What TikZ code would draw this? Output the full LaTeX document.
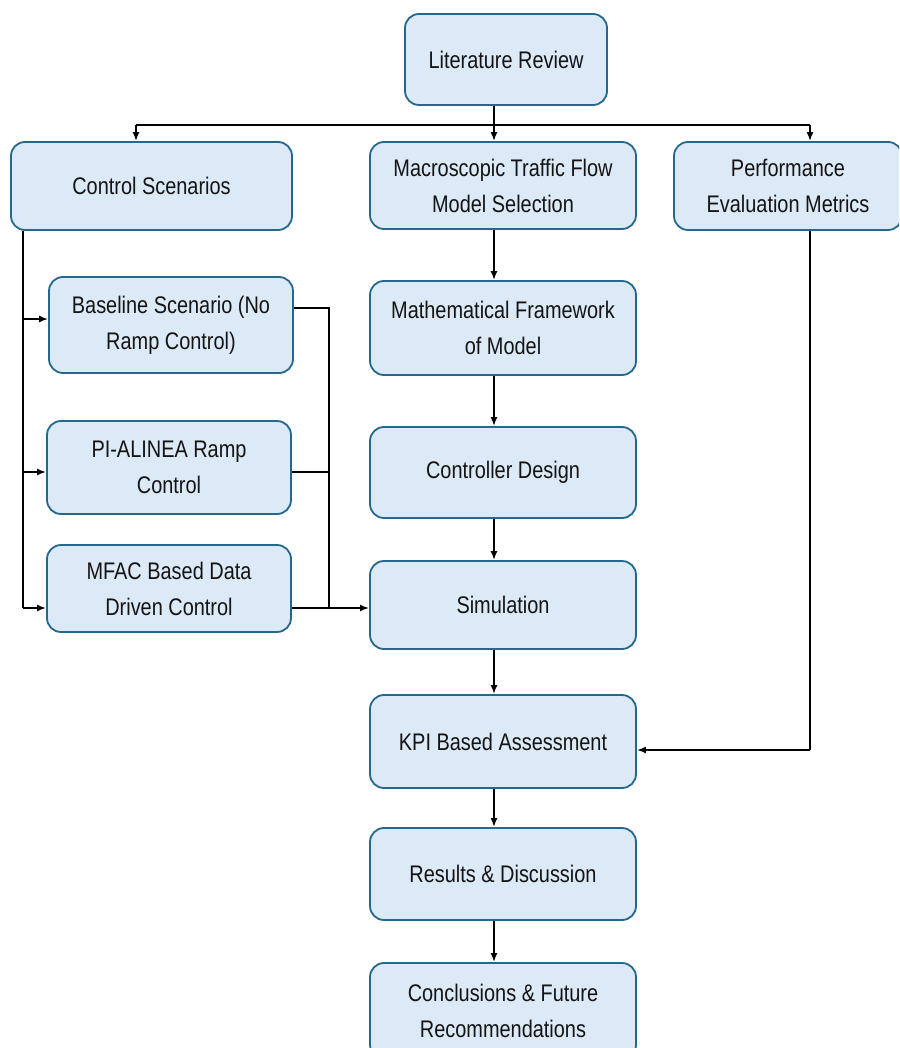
\documentclass[tikz,border=0pt]{standalone}
\usepackage{fontspec}
\setmainfont[FakeStretch=0.83]{Liberation Sans}
\usetikzlibrary{arrows.meta}
\definecolor{boxfill}{RGB}{220,233,246}
\definecolor{boxline}{RGB}{38,104,140}
\definecolor{txt}{RGB}{20,20,20}
\tikzset{
  stepbox/.style={draw=boxline, line width=1.8pt, fill=boxfill, rounded corners=14pt,
    align=center, text=txt, inner sep=0pt,
    font=\fontsize{24}{36}\selectfont},
  conn/.style={draw=black, line width=1.8pt},
  arr/.style={conn, -{Latex[length=9pt,width=7pt]}}
}
\begin{document}
\begin{tikzpicture}[x=1pt,y=-1pt]
\useasboundingbox (0,0) rectangle (899,1048);
\clip (0,0) rectangle (899,1048);
% nodes
\node[stepbox, minimum width=202pt, minimum height=91pt] (lit) at (506,59.5) {Literature Review};
\node[stepbox, minimum width=281pt, minimum height=88pt] (cs) at (151.5,186) {Control Scenarios};
\node[stepbox, minimum width=266pt, minimum height=87pt] (mac) at (503,185.5) {Macroscopic Traffic Flow\\Model Selection};
\node[stepbox, minimum width=228pt, minimum height=88pt] (perf) at (788,186) {Performance\\Evaluation Metrics};
\node[stepbox, minimum width=266pt, minimum height=94pt] (math) at (503,328) {Mathematical Framework\\of Model};
\node[stepbox, minimum width=266pt, minimum height=91pt] (ctrl) at (503,472.5) {Controller Design};
\node[stepbox, minimum width=266pt, minimum height=88pt] (sim) at (503,605) {Simulation};
\node[stepbox, minimum width=266pt, minimum height=93pt] (kpi) at (503,741.5) {KPI Based Assessment};
\node[stepbox, minimum width=266pt, minimum height=92pt] (res) at (503,874) {Results \& Discussion};
\node[stepbox, minimum width=266pt, minimum height=96pt] (conc) at (503,1011) {Conclusions \& Future\\Recommendations};
\node[stepbox, minimum width=244pt, minimum height=96pt] (base) at (171,325) {Baseline Scenario (No\\Ramp Control)};
\node[stepbox, minimum width=244pt, minimum height=93pt] (pi) at (169,467.5) {PI-ALINEA Ramp\\Control};
\node[stepbox, minimum width=244pt, minimum height=87pt] (mfac) at (169,588.5) {MFAC Based Data\\Driven Control};
% top bus
\coordinate (busL) at (136,125);
\coordinate (busR) at (810,125);
\draw[conn] ([xshift=-12pt]lit.south) -- ([xshift=-12pt]lit.south |- busL);
\draw[conn] (busL) -- (busR);
\draw[arr] (busL) -- (busL |- cs.north);
\draw[arr] ([xshift=-9pt]mac.north |- busL) -- ([xshift=-9pt]mac.north);
\draw[arr] (busR) -- (busR |- perf.north);
% middle chain
\draw[arr] ([xshift=-9pt]mac.south) -- ([xshift=-9pt]math.north);
\draw[arr] ([xshift=-9pt]math.south) -- ([xshift=-9pt]ctrl.north);
\draw[arr] ([xshift=-9pt]ctrl.south) -- ([xshift=-9pt]sim.north);
\draw[arr] ([xshift=-9pt]sim.south) -- ([xshift=-9pt]kpi.north);
\draw[arr] ([xshift=-9pt]kpi.south) -- ([xshift=-9pt]res.north);
\draw[arr] ([xshift=-9pt]res.south) -- ([xshift=-9pt]conc.north);
% left trunk
\coordinate (trunkTop) at ([xshift=-128.5pt]cs.south);
\coordinate (trunkBot) at ([yshift=-19.5pt]mfac.west -| trunkTop);
\draw[conn] (trunkTop) -- (trunkBot);
\draw[arr] ([yshift=6pt]base.west -| trunkTop) -- ([yshift=6pt]base.west);
\draw[arr] ([yshift=-4.5pt]pi.west -| trunkTop) -- ([yshift=-4.5pt]pi.west);
\draw[arr] (trunkBot) -- ([yshift=-19.5pt]mfac.west);
% right bracket
\coordinate (brTop) at (329,308);
\coordinate (brBot) at (329,608);
\draw[conn] ([yshift=17pt]base.east) -- (brTop) -- (brBot);
\draw[conn] ([yshift=-4.5pt]pi.east) -- ([yshift=-4.5pt]pi.east -| brTop);
\draw[arr] ([yshift=-19.5pt]mfac.east) -- ([yshift=-3pt]sim.west);
% performance to KPI
\coordinate (perfCorner) at (810,750);
\draw[conn] ([xshift=22pt]perf.south) -- (perfCorner);
\draw[arr] (perfCorner) -- ([yshift=-8.5pt]kpi.east);
\end{tikzpicture}
\end{document}
